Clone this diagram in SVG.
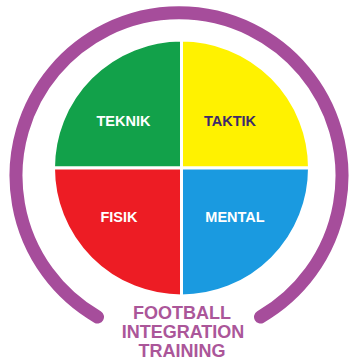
<svg xmlns="http://www.w3.org/2000/svg" width="349" height="360" viewBox="0 0 349 360">
<style>
.lbl{font-family:"Liberation Sans",Arial,sans-serif;font-weight:bold;font-size:14.5px;text-anchor:middle}
.ttl{font-family:"Liberation Sans",Arial,sans-serif;font-weight:bold;font-size:18px;text-anchor:middle;fill:#ab5699}
.q{stroke:#ffffff;stroke-width:3}
</style>
<rect width="349" height="360" fill="#ffffff"/>
<g id="ring">
<path d="M 97.5 317 A 163 163 0 1 1 260.5 317" fill="none" stroke="#a64d9b" stroke-width="13" stroke-linecap="round"/>
</g>
<g id="teknik">
<path class="q" d="M 181.5 168 L 53.5 168 A 128 128 0 0 1 181.5 40 Z" fill="#12a14a"/>
<text class="lbl" x="123.5" y="126" fill="#ffffff">TEKNIK</text>
</g>
<g id="taktik">
<path class="q" d="M 181.5 168 L 181.5 40 A 128 128 0 0 1 309.5 168 Z" fill="#fff200"/>
<text class="lbl" x="230" y="126" fill="#3d2a6b">TAKTIK</text>
</g>
<g id="mental">
<path class="q" d="M 181.5 168 L 309.5 168 A 128 128 0 0 1 181.5 296 Z" fill="#1a9ae0"/>
<text class="lbl" x="235" y="222" fill="#ffffff">MENTAL</text>
</g>
<g id="fisik">
<path class="q" d="M 181.5 168 L 181.5 296 A 128 128 0 0 1 53.5 168 Z" fill="#ed1c24"/>
<text class="lbl" x="119" y="222" fill="#ffffff">FISIK</text>
</g>
<g id="title">
<text class="ttl" x="182" y="319">FOOTBALL</text>
<text class="ttl" x="183" y="338">INTEGRATION</text>
<text class="ttl" x="182" y="357">TRAINING</text>
</g>
<g id="connectors"></g>
</svg>
